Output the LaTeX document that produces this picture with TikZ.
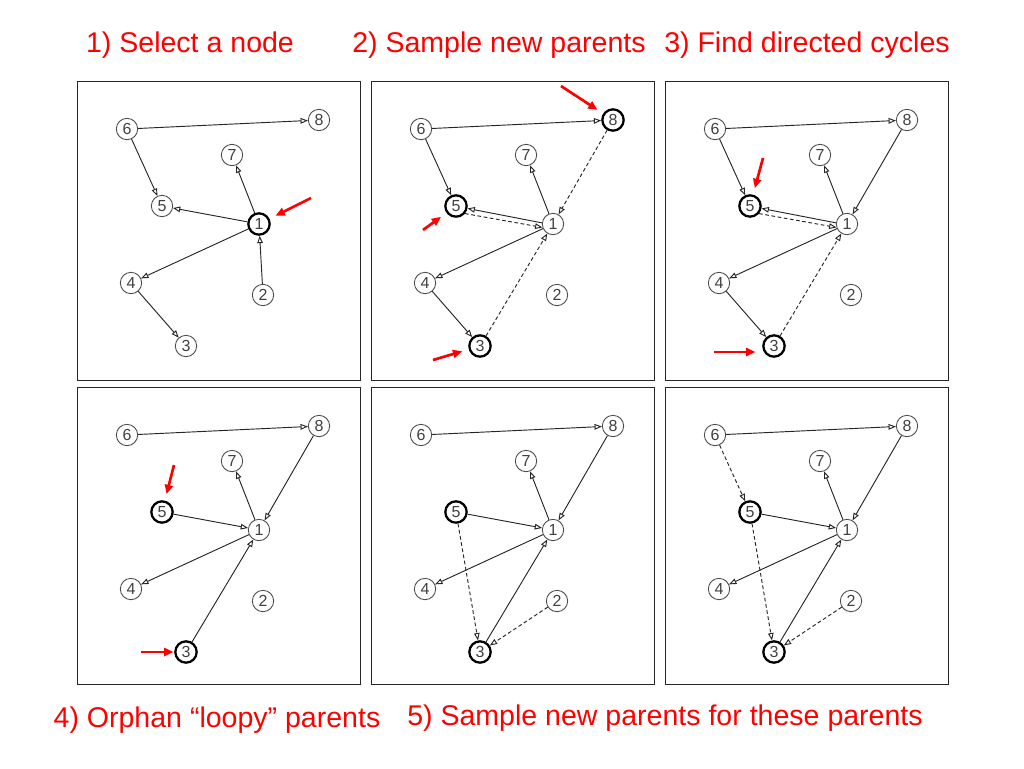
\documentclass[tikz,border=0pt]{standalone}
\usepackage{fontspec}
\setmainfont{Liberation Sans}
\usetikzlibrary{arrows.meta}

\tikzset{
  vtx/.style={circle, draw=black!70, line width=0.65pt, minimum size=16pt, inner sep=0pt,
    text=black!75, font=\fontsize{12}{12}\selectfont},
  hot/.style={vtx, draw=black, line width=1.7pt},
  edge/.style={-{Triangle[open,length=5.5pt,width=4.2pt]}, line width=0.7pt, black!85},
  cand/.style={edge, dash pattern=on 2.8pt off 1.9pt},
  pointer/.style={-{Triangle[length=7pt,width=6pt]}, line width=2pt, red, shorten >=5pt},
  title/.style={text=red, font=\fontsize{21.4}{25}\selectfont},
  frame/.style={draw=black!85, line width=0.7pt}
}

\begin{document}
\begin{tikzpicture}[x=0.75pt, y=-0.75pt]
  \useasboundingbox (0,0) rectangle (1024,768);

  % titles
  \node[title] (t1) at (190,45) {1) Select a node};
  \node[title] (t2) at (499,45) {2) Sample new parents};
  \node[title] (t3) at (807,45) {3) Find directed cycles};
  \node[title] (t4) at (217,720) {4) Orphan “loopy” parents};
  \node[title] (t5) at (665,718) {5) Sample new parents for these parents};

  % panel 1
  \begin{scope}[shift={(77,81)}]
    \draw[frame] (0,0) rectangle (283,299);
    \foreach \n/\x/\y/\s in {1/182/143/hot, 2/186/214/vtx, 3/109/265/vtx, 4/54/202/vtx,
        5/85/125/vtx, 6/50/48/vtx, 7/155/74/vtx, 8/242/39/vtx}
      \node[\s] (a\n) at (\x,\y) {\n};
    \draw[edge] (a6) -- (a8);
    \draw[edge] (a6) -- (a5);
    \draw[edge] (a1) -- (a7);
    \draw[edge] (a1) -- (a5);
    \draw[edge] (a1) -- (a4);
    \draw[edge] (a2) -- (a1);
    \draw[edge] (a4) -- (a3);
    \coordinate (ra1) at (234,117);
    \draw[pointer] (ra1) -- (a1);
  \end{scope}

  % panel 2
  \begin{scope}[shift={(371,81)}]
    \draw[frame] (0,0) rectangle (283,299);
    \foreach \n/\x/\y/\s in {1/182/143/vtx, 2/186/214/vtx, 3/109/265/hot, 4/54/202/vtx,
        5/85/125/hot, 6/50/48/vtx, 7/155/74/vtx, 8/242/39/hot}
      \node[\s] (b\n) at (\x,\y) {\n};
    \draw[edge] (b6) -- (b8);
    \draw[edge] (b6) -- (b5);
    \draw[edge] (b1) -- (b7);
    \draw[edge] (b1.174) -- (b5.-12);
    \draw[cand] (b5.-40) -- (b1.198);
    \draw[edge] (b1) -- (b4);
    \draw[edge] (b4) -- (b3);
    \draw[cand] (b8) -- (b1);
    \draw[cand] (b3) -- (b1);
    \coordinate (rb8) at (190,5);
    \coordinate (rb5) at (52,149);
    \coordinate (rb3) at (62,279);
    \draw[pointer] (rb8) -- (b8);
    \draw[pointer] (rb5) -- (b5);
    \draw[pointer] (rb3) -- (b3);
  \end{scope}

  % panel 3
  \begin{scope}[shift={(665,81)}]
    \draw[frame] (0,0) rectangle (283,299);
    \foreach \n/\x/\y/\s in {1/182/143/vtx, 2/186/214/vtx, 3/109/265/hot, 4/54/202/vtx,
        5/85/125/hot, 6/50/48/vtx, 7/155/74/vtx, 8/242/39/vtx}
      \node[\s] (c\n) at (\x,\y) {\n};
    \draw[edge] (c6) -- (c8);
    \draw[edge] (c6) -- (c5);
    \draw[edge] (c8) -- (c1);
    \draw[edge] (c1) -- (c7);
    \draw[edge] (c1.174) -- (c5.-12);
    \draw[cand] (c5.-40) -- (c1.198);
    \draw[edge] (c1) -- (c4);
    \draw[edge] (c4) -- (c3);
    \draw[cand] (c3) -- (c1);
    \coordinate (rc5) at (98,77);
    \coordinate (rc3) at (49,271);
    \draw[pointer] (rc5) -- (c5);
    \draw[pointer] (rc3) -- (rc3 -| c3.west);
  \end{scope}

  % panel 4
  \begin{scope}[shift={(77,387)}]
    \draw[frame] (0,0) rectangle (283,297);
    \foreach \n/\x/\y/\s in {1/182/143/vtx, 2/186/214/vtx, 3/109/265/hot, 4/54/202/vtx,
        5/85/125/hot, 6/50/48/vtx, 7/155/74/vtx, 8/242/39/vtx}
      \node[\s] (d\n) at (\x,\y) {\n};
    \draw[edge] (d6) -- (d8);
    \draw[edge] (d8) -- (d1);
    \draw[edge] (d1) -- (d7);
    \draw[edge] (d5) -- (d1);
    \draw[edge] (d1) -- (d4);
    \draw[edge] (d3) -- (d1);
    \coordinate (rd5) at (97,78);
    \coordinate (rd3) at (64,265);
    \draw[pointer] (rd5) -- (d5);
    \draw[pointer, shorten >=0.5pt] (rd3) -- (d3);
  \end{scope}

  % panel 5
  \begin{scope}[shift={(371,387)}]
    \draw[frame] (0,0) rectangle (283,297);
    \foreach \n/\x/\y/\s in {1/182/143/vtx, 2/186/214/vtx, 3/109/265/hot, 4/54/202/vtx,
        5/85/125/hot, 6/50/48/vtx, 7/155/74/vtx, 8/242/39/vtx}
      \node[\s] (e\n) at (\x,\y) {\n};
    \draw[edge] (e6) -- (e8);
    \draw[edge] (e8) -- (e1);
    \draw[edge] (e1) -- (e7);
    \draw[edge] (e5) -- (e1);
    \draw[edge] (e1) -- (e4);
    \draw[edge] (e3) -- (e1);
    \draw[cand] (e5) -- (e3);
    \draw[cand] (e2) -- (e3);
  \end{scope}

  % panel 6
  \begin{scope}[shift={(665,387)}]
    \draw[frame] (0,0) rectangle (283,297);
    \foreach \n/\x/\y/\s in {1/182/143/vtx, 2/186/214/vtx, 3/109/265/hot, 4/54/202/vtx,
        5/85/125/hot, 6/50/48/vtx, 7/155/74/vtx, 8/242/39/vtx}
      \node[\s] (f\n) at (\x,\y) {\n};
    \draw[edge] (f6) -- (f8);
    \draw[edge] (f8) -- (f1);
    \draw[edge] (f1) -- (f7);
    \draw[edge] (f5) -- (f1);
    \draw[edge] (f1) -- (f4);
    \draw[edge] (f3) -- (f1);
    \draw[cand] (f5) -- (f3);
    \draw[cand] (f2) -- (f3);
    \draw[cand] (f6) -- (f5);
  \end{scope}
\end{tikzpicture}
\end{document}
